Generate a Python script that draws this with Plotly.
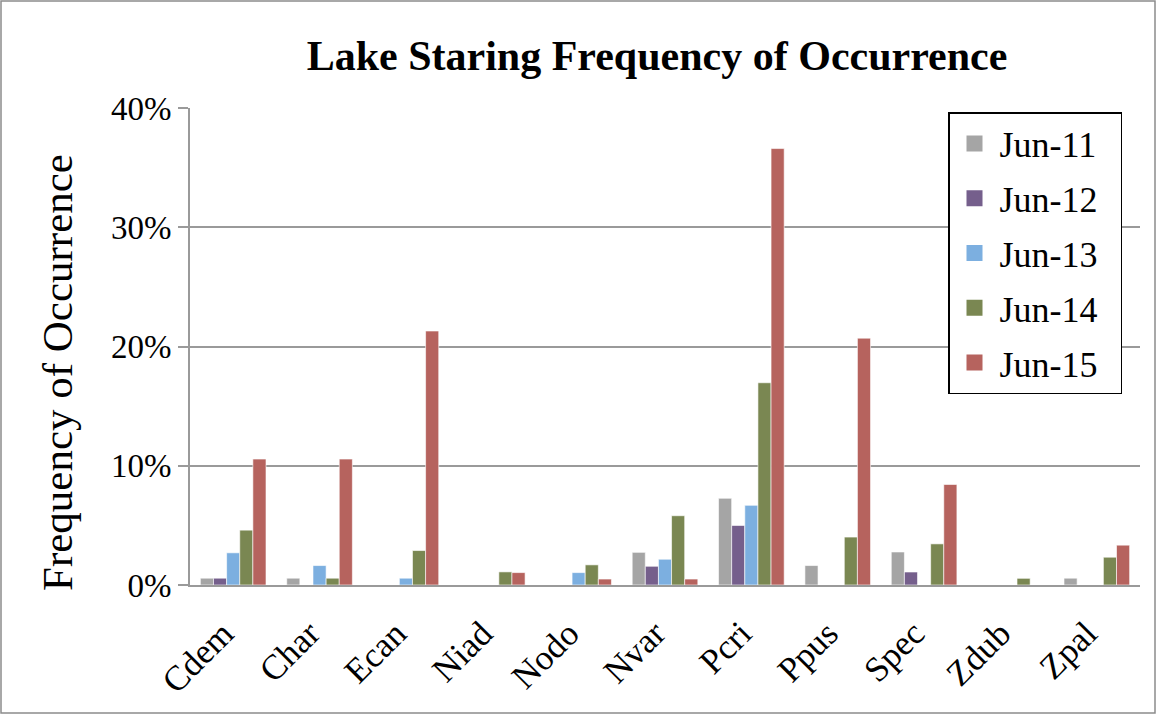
import plotly.graph_objects as go

categories = ["Cdem", "Char", "Ecan", "Niad", "Nodo", "Nvar", "Pcri", "Ppus", "Spec", "Zdub", "Zpal"]
series_names = ["Jun-11", "Jun-12", "Jun-13", "Jun-14", "Jun-15"]
jun11 = [0.0057, 0.0057, 0, 0, 0, 0.0274, 0.0727, 0.0163, 0.0277, 0, 0.0057]
jun12 = [0.0057, 0, 0, 0, 0, 0.0157, 0.0499, 0, 0.0109, 0, 0]
jun13 = [0.0270, 0.0163, 0.0057, 0, 0.0104, 0.0216, 0.0668, 0, 0, 0, 0]
jun14 = [0.0460, 0.0057, 0.0289, 0.0110, 0.0169, 0.0581, 0.1696, 0.0402, 0.0345, 0.0056, 0.0233]
jun15 = [0.1056, 0.1056, 0.2130, 0.0104, 0.0050, 0.0050, 0.3660, 0.2070, 0.0843, 0, 0.0334]
series = [jun11, jun12, jun13, jun14, jun15]
colors = ["#A5A5A5", "#755F8C", "#7CAFE0", "#7A8752", "#B6635E"]

W, H = 1156, 714
L, R, T, B = 190, 16, 108, 129

fig = go.Figure()
for name, vals, col in zip(series_names, series, colors):
    fig.add_trace(go.Bar(
        x=categories, y=vals, name=name, legendgroup=name, showlegend=False,
        marker=dict(color=col, line=dict(color="rgba(255,255,255,0.6)", width=1)),
    ))
for name, col in zip(series_names, colors):
    fig.add_trace(go.Scatter(
        x=[None], y=[None], mode="markers", name=name + "\u00a0\u00a0", legendgroup=name,
        marker=dict(symbol="square", size=17, color=col),
    ))

pw, ph = W - L - R, H - T - B
fig.update_layout(
    width=W, height=H,
    margin=dict(l=L, r=R, t=T, b=B, autoexpand=False),
    paper_bgcolor="white", plot_bgcolor="white",
    barmode="group", bargap=0.24, bargroupgap=0,
    font=dict(family="Liberation Serif", color="black"),
    title=dict(text="<b>Lake Staring Frequency of Occurrence</b>", x=657 / W, xanchor="center",
               y=1 - 55 / H, yanchor="middle", font=dict(size=42, family="Liberation Serif")),
    yaxis=dict(range=[0, 0.4], tickformat=".0%", dtick=0.1, showgrid=True, gridcolor="#9A9A9A",
               gridwidth=2, showline=True, linecolor="#9A9A9A", linewidth=2, ticks="outside",
               ticklen=10, tickcolor="#9A9A9A", tickwidth=2, tickfont=dict(size=33),
               zeroline=False),
    xaxis=dict(showline=True, linecolor="#9A9A9A", linewidth=2, tickangle=-45,
               tickfont=dict(size=35), ticks="", ticklabelstandoff=12, ticklabelshift=-10),
    legend=dict(x=(948 - L) / pw, y=(H - B - 112) / ph, xanchor="left", yanchor="top",
                bgcolor="white", bordercolor="black", borderwidth=1.5,
                font=dict(size=36), tracegroupgap=5, traceorder="grouped",
                itemwidth=40),
    annotations=[dict(text="Frequency of Occurrence", textangle=-90, xref="paper", yref="paper",
                      x=-(L - 57) / pw, y=(H - B - 373) / ph, xanchor="center", yanchor="middle",
                      showarrow=False, font=dict(size=43))],
    shapes=[dict(type="rect", xref="paper", yref="paper",
                 x0=-(L - 1) / pw, x1=1 + (R - 1) / pw,
                 y0=-(B - 1) / ph, y1=1 + (T - 1) / ph,
                 line=dict(color="#8C8C8C", width=1.5), fillcolor="rgba(0,0,0,0)", layer="below")],
)

fig.write_html("out.html", config={"displayModeBar": False},
               post_script="document.body.style.margin='0';")
